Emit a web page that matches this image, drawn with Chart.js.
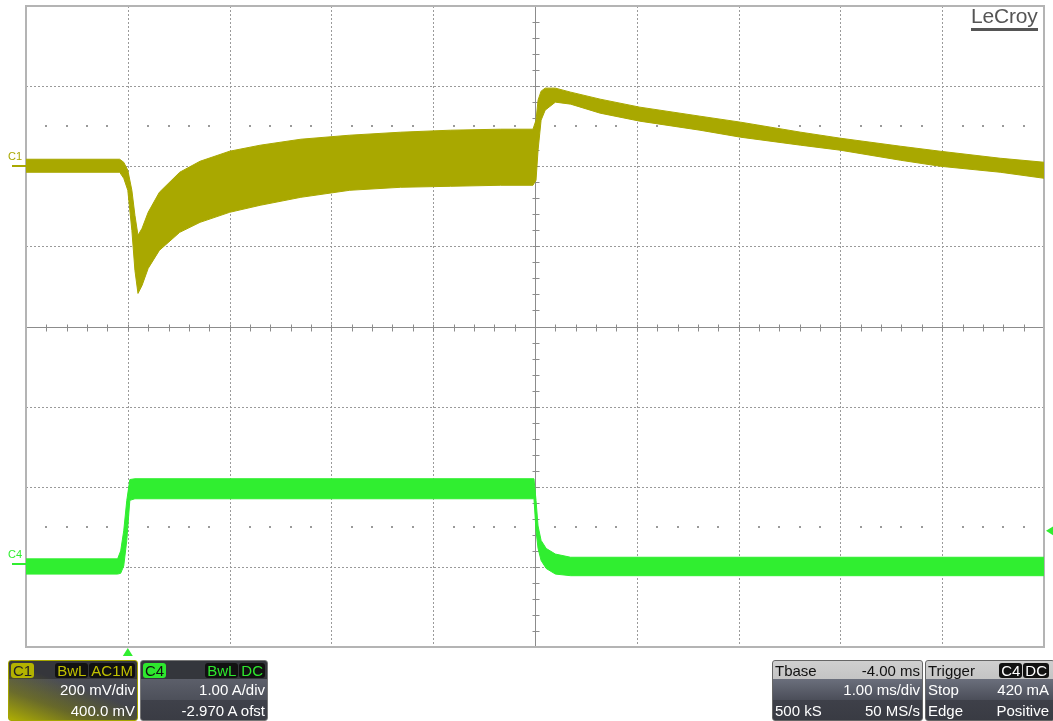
<!DOCTYPE html>
<html><head>
<meta charset="utf-8">
<script src="https://cdn.jsdelivr.net/npm/chart.js"></script>
<title>Load step response</title>
<style>
body { margin: 0; background: #fff; font-family: "Liberation Sans", Arial, sans-serif; }
#wrap { position: relative; width: 1053px; height: 721px; overflow: hidden; }
#chart { position: absolute; left: 0; top: 0; }
.logo { position: absolute; left: 971px; top: 5px; font-size: 21px; color: #555; letter-spacing: -0.2px;
  border-bottom: 3px solid #555; line-height: 22px; padding-bottom: 1px; }
.box { position: absolute; top: 660px; height: 61px; border-radius: 3px; overflow: hidden;
  color: #fff; font-size: 15px; box-sizing: border-box; }
.row { display: flex; justify-content: space-between; align-items: center; box-sizing: border-box;
  padding: 0 2px; white-space: nowrap; overflow: hidden; }
.row.top { height: 18px; }
.row.mid { height: 21px; }
.row.bot { height: 21px; }
.r { justify-content: flex-end; }
.tag { display: inline-block; border-radius: 3px; padding: 0 2px; line-height: 15px; }
.tags { display: flex; gap: 1px; }
.c1box { border: 1px solid #a5a500;
  background: linear-gradient(20deg, rgba(180,180,0,0.95) 0%, rgba(150,150,0,0.45) 28%, rgba(0,0,0,0) 55%),
              linear-gradient(#35363b 0, #35363b 18px, #4c4e56 18px, #3d3f46 100%); }
.c4box { border: 1px solid #777;
  background: linear-gradient(#34363c 0, #34363c 18px, #5c5f6a 18px, #4d505a 39px, #3f414a 39px, #3a3c44 100%); }
.tbox { border: 1px solid #666;
  background: linear-gradient(#cfcfcf 0, #c4c4c4 18px, #6b6f7c 18px, #4b4e59 39px, #3e4049 39px, #393b43 100%); }
.tbox .top { color: #111; }
</style>
</head>
<body>
<div id="wrap">
  <canvas id="chart" width="1053" height="721"></canvas>

  <div class="logo">LeCroy</div>

  <div class="box c1box" style="left:8px;width:130px">
    <div class="row top"><span class="tag" style="background:#b3b300;color:#222">C1</span>
      <span class="tags"><span class="tag" style="background:#111;color:#c0c000">BwL</span><span class="tag" style="background:#111;color:#c0c000">AC1M</span></span></div>
    <div class="row mid r">200 mV/div</div>
    <div class="row bot r">400.0 mV</div>
  </div>

  <div class="box c4box" style="left:140px;width:128px">
    <div class="row top"><span class="tag" style="background:#2ee82e;color:#111">C4</span>
      <span class="tags"><span class="tag" style="background:#111;color:#2ee82e">BwL</span><span class="tag" style="background:#111;color:#2ee82e">DC</span></span></div>
    <div class="row mid r">1.00 A/div</div>
    <div class="row bot r">-2.970 A ofst</div>
  </div>

  <div class="box tbox" style="left:772px;width:151px">
    <div class="row top"><span>Tbase</span><span>-4.00 ms</span></div>
    <div class="row mid r">1.00 ms/div</div>
    <div class="row bot"><span>500 kS</span><span>50 MS/s</span></div>
  </div>

  <div class="box tbox" style="left:925px;width:130px">
    <div class="row top" style="padding-right:5px"><span>Trigger</span>
      <span class="tags"><span class="tag" style="background:#111;color:#fff">C4</span><span class="tag" style="background:#111;color:#fff">DC</span></span></div>
    <div class="row mid" style="padding-right:5px"><span>Stop</span><span>420 mA</span></div>
    <div class="row bot" style="padding-right:5px"><span>Edge</span><span>Positive</span></div>
  </div>
</div>

<script>
// time in ms relative to trigger, 1 ms/div, trigger 1 div from the left edge
const timeMin = -1;
const timeMax = 9;

// C1: output voltage (AC coupled), 200 mV/div, offset 400 mV -> envelope of the ripple band
const c1Time  = [-1.0, -0.08, -0.04, 0, 0.04, 0.07, 0.10, 0.14, 0.20, 0.31, 0.51, 0.71, 1.0, 1.30, 1.70, 2.18, 2.68, 3.17, 3.66, 3.98,
                 4.01, 4.03, 4.06, 4.10, 4.20, 4.35, 4.64, 5.03, 5.62, 6.02, 6.61, 7.0, 7.59, 7.98, 8.57, 9.0];
const c1Upper = [17.5, 17.5, 10, -10, -60, -122.5, -172.5, -155, -115, -65, -15, 12.5, 37.5, 52.5, 67.5, 77.5, 85, 90, 92.5, 92.5,
                 115, 165, 187.5, 195, 195, 185, 167.5, 147.5, 125, 110, 85, 70, 50, 37.5, 20, 10];
const c1Lower = [-15, -15, -30, -60, -160, -260, -317.5, -297.5, -255, -210, -165, -140, -115, -97.5, -77.5, -60, -52.5, -50, -47.5, -47.5,
                 -35, 40, 115, 140, 160, 155, 132.5, 112.5, 90, 72.5, 52.5, 40, 15, 0, -15, -30];

// C4: load current, 1 A/div, offset -2.970 A
const c4Time  = [-1.0, -0.10, -0.07, -0.04, -0.01, 0.02, 0.07, 3.99, 4.01, 4.03, 4.06, 4.11, 4.20, 4.35, 9.0];
const c4Upper = [0.07, 0.07, 0.17, 0.42, 0.80, 1.06, 1.07, 1.07, 0.80, 0.48, 0.30, 0.20, 0.13, 0.09, 0.09];
const c4Lower = [-0.12, -0.12, -0.11, -0.02, 0.30, 0.80, 0.82, 0.82, 0.42, 0.20, 0.05, -0.05, -0.12, -0.14, -0.14];

const c1Scale = { perDiv: 200, offset: 400 };
const c4Scale = { perDiv: 1, offset: -2.97 };
const triggerLevel = 0.42;

const c1Color = '#a9a800';
const c4Color = '#30ee30';

function points(times, values) {
  return times.map((t, i) => ({ x: t, y: values[i] }));
}

// vertical range of a channel: 8 divisions around -offset
function range(s) {
  const centre = -s.offset;
  return { min: centre - 4 * s.perDiv, max: centre + 4 * s.perDiv };
}

const graticule = {
  id: 'graticule',
  beforeDatasetsDraw(chart) {
    const { ctx, chartArea: a, scales: { x } } = chart;
    const divY = (a.bottom - a.top) / 8;
    const divX = (a.right - a.left) / 10;
    const cx = Math.round(x.getPixelForValue((timeMin + timeMax) / 2)) + 0.5;
    const cy = Math.round(a.top + 4 * divY) + 0.5;
    ctx.save();

    ctx.strokeStyle = '#9a9a9a';
    ctx.lineWidth = 1;
    ctx.setLineDash([2, 2]);
    for (let t = timeMin + 1; t < timeMax; t++) {
      if (t === (timeMin + timeMax) / 2) continue;
      const px = Math.round(x.getPixelForValue(t)) + 0.5;
      ctx.beginPath(); ctx.moveTo(px, a.top); ctx.lineTo(px, a.bottom); ctx.stroke();
    }
    for (let d = 1; d < 8; d++) {
      if (d === 4) continue;
      const py = Math.round(a.top + d * divY) + 0.5;
      ctx.beginPath(); ctx.moveTo(a.left, py); ctx.lineTo(a.right, py); ctx.stroke();
    }
    ctx.setLineDash([]);

    // sub-division dots halfway inside the outer divisions
    ctx.fillStyle = '#9a9a9a';
    [1.5, 6.5].forEach(d => {
      const py = Math.round(a.top + d * divY) - 1;
      for (let i = 1; i < 50; i++) {
        if (i % 5 === 0) continue;
        ctx.fillRect(Math.round(a.left + i * divX / 5) - 1, py, 2, 2);
      }
    });

    // centre cross with minor ticks
    ctx.strokeStyle = '#8c8c8c';
    ctx.beginPath();
    ctx.moveTo(cx, a.top); ctx.lineTo(cx, a.bottom);
    ctx.moveTo(a.left, cy); ctx.lineTo(a.right, cy);
    for (let i = 1; i < 40; i++) {
      const py = Math.round(a.top + i * divY / 5) + 0.5;
      ctx.moveTo(cx - 3, py); ctx.lineTo(cx + 4, py);
    }
    for (let i = 1; i < 50; i++) {
      const px = Math.round(a.left + i * divX / 5) + 0.5;
      ctx.moveTo(px, cy - 3); ctx.lineTo(px, cy + 4);
    }
    ctx.stroke();

    // frame
    ctx.strokeStyle = '#b4b4b4';
    ctx.lineWidth = 2;
    ctx.strokeRect(a.left, a.top, a.right - a.left, a.bottom - a.top);
    ctx.restore();
  },
  afterDraw(chart) {
    const { ctx, chartArea: a, scales: { x, yC1, yC4 } } = chart;
    ctx.save();
    // channel ground markers and labels
    [[yC1, c1Color, 'C1'], [yC4, c4Color, 'C4']].forEach(([s, col, name]) => {
      const py = Math.round(s.getPixelForValue(0));
      ctx.fillStyle = col;
      ctx.fillRect(12, py - 1, a.left - 12, 2);
      ctx.font = '11px "Liberation Sans", Arial, sans-serif';
      ctx.textBaseline = 'alphabetic';
      ctx.fillText(name, 8, py - 6);
    });
    // trigger position and level
    ctx.fillStyle = c4Color;
    const tx = x.getPixelForValue(0);
    ctx.beginPath();
    ctx.moveTo(tx, a.bottom + 1); ctx.lineTo(tx - 5, a.bottom + 9); ctx.lineTo(tx + 5, a.bottom + 9);
    ctx.fill();
    const ty = yC4.getPixelForValue(triggerLevel);
    ctx.beginPath();
    ctx.moveTo(a.right + 2, ty); ctx.lineTo(a.right + 10, ty - 5); ctx.lineTo(a.right + 10, ty + 5);
    ctx.fill();
    ctx.restore();
  }
};

function band(color, axis, times, upper, lower) {
  return [{
    data: points(times, upper), yAxisID: axis, borderColor: color, backgroundColor: color,
    borderWidth: 1, pointRadius: 0, tension: 0, fill: '+1'
  }, {
    data: points(times, lower), yAxisID: axis, borderColor: color, backgroundColor: color,
    borderWidth: 1, pointRadius: 0, tension: 0, fill: false
  }];
}

new Chart(document.getElementById('chart'), {
  type: 'line',
  data: {
    datasets: [
      ...band(c1Color, 'yC1', c1Time, c1Upper, c1Lower),
      ...band(c4Color, 'yC4', c4Time, c4Upper, c4Lower)
    ]
  },
  options: {
    responsive: false,
    animation: false,
    layout: { padding: { left: 26, top: 6, right: 9, bottom: 74 } },
    plugins: { legend: { display: false }, tooltip: { enabled: false } },
    scales: {
      x: { type: 'linear', min: timeMin, max: timeMax, display: false },
      yC1: { type: 'linear', ...range(c1Scale), display: false },
      yC4: { type: 'linear', ...range(c4Scale), display: false }
    }
  },
  plugins: [graticule]
});
</script>
</body></html>
